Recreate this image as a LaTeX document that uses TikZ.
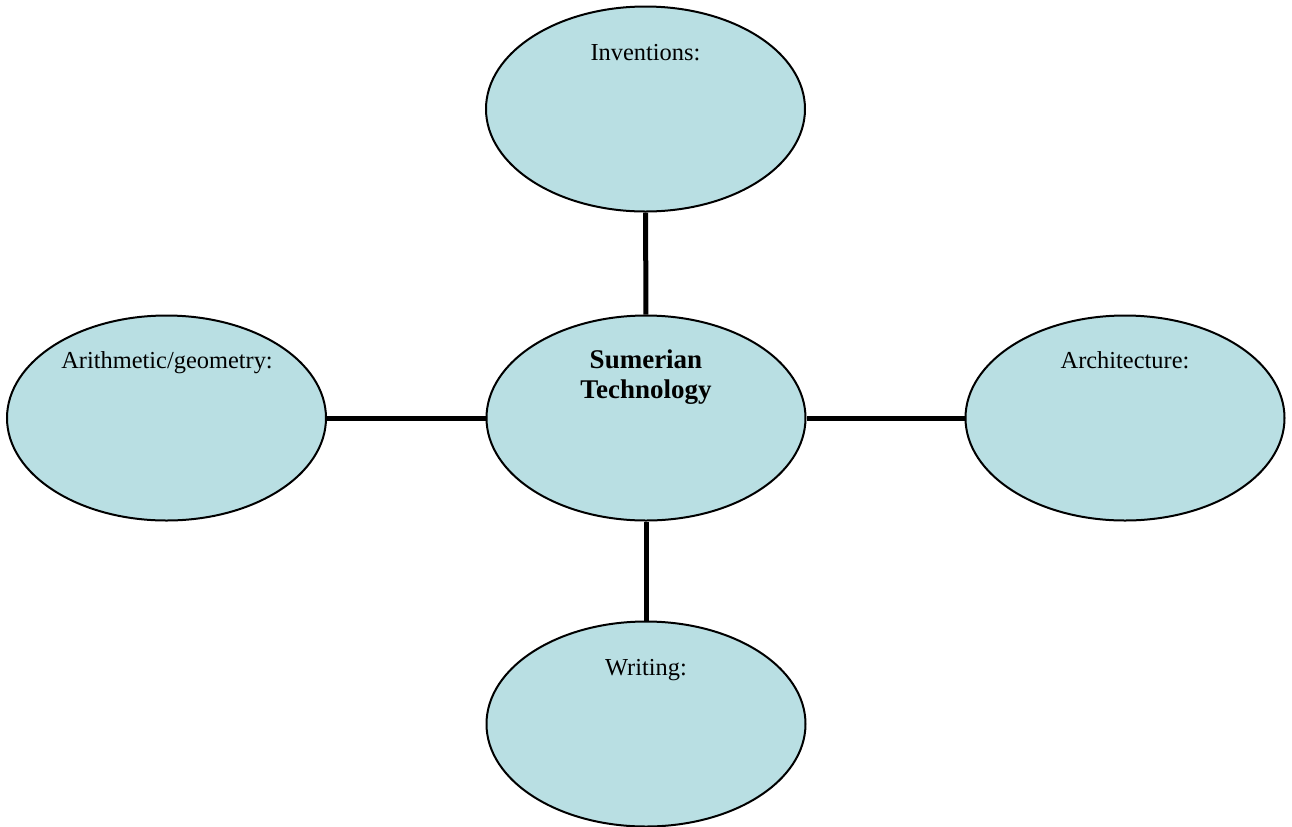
\documentclass[tikz,border=0pt]{standalone}
\usepackage{fontspec}
\setmainfont{Liberation Serif}
\usetikzlibrary{shapes.geometric}
\definecolor{bubblefill}{RGB}{185,223,227}

\begin{document}
\begin{tikzpicture}[x=0.5pt,y=0.5pt]
	\tikzstyle{every node}+=[inner sep=0pt]
	\tikzstyle{bubble}=[ellipse,draw=black,line width=1pt,fill=bubblefill,minimum width=159.5pt,minimum height=102.5pt]
	\tikzstyle{spoke}=[black,line width=2.5pt]
	\tikzstyle{caption}=[anchor=base,align=center,font=\fontsize{12.2}{15}\selectfont]
	\useasboundingbox (0,0) rectangle (1292,-826);
	\node [bubble] (tech) at (646,-418) {};
	\node [bubble] (inv) at (645.5,-109) {};
	\node [bubble] (arith) at (166.5,-418) {};
	\node [bubble] (arch) at (1125,-418) {};
	\node [bubble] (writ) at (646,-724) {};
	\draw [spoke] (inv) -- (tech);
	\draw [spoke] (arith) -- (tech);
	\draw [spoke] (tech) -- (arch);
	\draw [spoke] (tech) -- (writ);
	\node [caption,font=\fontsize{13.5}{15}\selectfont\bfseries] (techtext) at (646,-398) {Sumerian\\Technology};
	\node [caption] (invtext) at (645.5,-60) {Inventions:};
	\node [caption] (arithtext) at (167,-368) {Arithmetic/geometry:};
	\node [caption] (archtext) at (1125,-368) {Architecture:};
	\node [caption] (writtext) at (646,-675) {Writing:};
\end{tikzpicture}
\end{document}
